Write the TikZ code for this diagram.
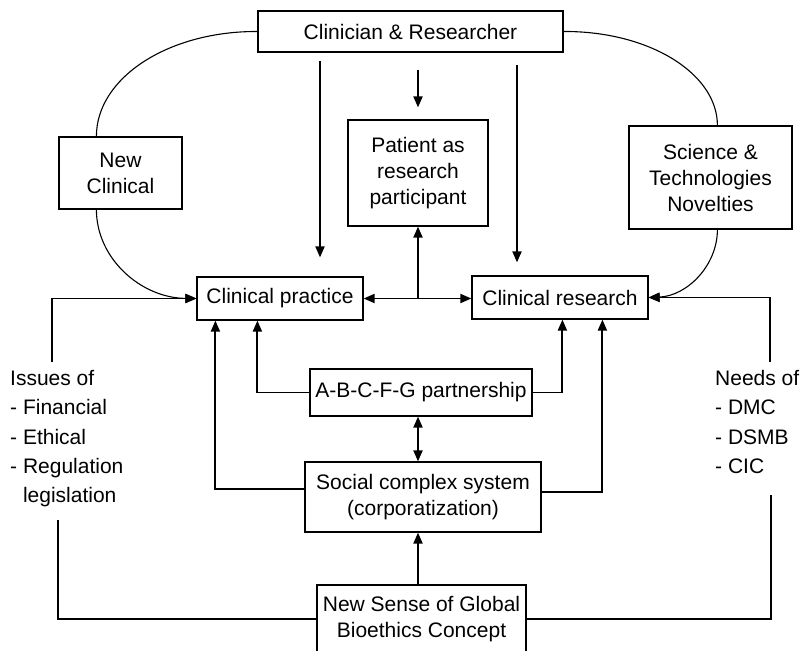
\documentclass[tikz,border=0pt]{standalone}
\usepackage{fontspec}
\setmainfont{Liberation Sans}
\usetikzlibrary{arrows.meta}
\begin{document}
\begin{tikzpicture}[x=1pt,y=-1pt,
  box/.style={draw, line width=1.2pt, inner sep=0pt, align=center,
    font=\fontsize{21}{26}\selectfont},
  arr/.style={line width=1.9pt, -{Triangle[length=11pt,width=9pt]}},
  darr/.style={line width=1.9pt, {Triangle[length=11pt,width=9pt]}-{Triangle[length=11pt,width=9pt]}},
  curve/.style={line width=1.1pt},
  list/.style={inner sep=0pt, anchor=north west, align=left,
    font=\fontsize{21}{29.3}\selectfont}]
\useasboundingbox (0,0) rectangle (802,650);

% boxes
\node[box, minimum width=305pt, minimum height=41pt] (clin) at (410.5,31.5) {Clinician \& Researcher};
\node[box, minimum width=123pt, minimum height=72pt] (nc) at (120.5,173) {New\\Clinical};
\node[box, minimum width=140pt, minimum height=106pt] (pat) at (418,173) {Patient as\\research\\participant};
\node[box, minimum width=163pt, minimum height=103pt] (sci) at (710.5,177.5) {Science \&\\Technologies\\Novelties};
\node[box, minimum width=166pt, minimum height=43pt] (prac) at (280,298.5) {Clinical practice};
\node[box, minimum width=176pt, minimum height=43pt] (res) at (560,297.5) {Clinical research};
\node[box, minimum width=222pt, minimum height=47pt] (abc) at (421,392.5) {A-B-C-F-G partnership};
\node[box, minimum width=236pt, minimum height=70pt] (soc) at (423,497) {Social complex system\\(corporatization)};
\node[box, minimum width=209pt, minimum height=68pt] (ns) at (421.5,619) {New Sense of Global\\Bioethics Concept};

% side lists
\node[list] (iss) at (10,370) {Issues of\\- Financial\\- Ethical\\- Regulation\\\hphantom{- }legislation};
\node[list] (need) at (715,370) {Needs of\\- DMC\\- DSMB\\- CIC};

% free ends of the side connectors
\coordinate (issTop) at (52,362);
\coordinate (issBot) at (58,520);
\coordinate (needTop) at (770,362);
\coordinate (needBot) at (771,495);

% curved links through the side boxes
\draw[curve] (clin.west) .. controls (169,31) and ([xshift=38pt,yshift=59pt]nc.north west) .. ([xshift=38pt]nc.north west);
\draw[curve, -{Triangle[length=11pt,width=9pt]}] ([xshift=38pt]nc.south west) .. controls ([xshift=38pt,yshift=-49pt]nc.south west) and (141,298) .. (prac.west);
\draw[curve] (clin.east) .. controls (649,31) and ([xshift=89pt,yshift=52pt]sci.north west) .. ([xshift=89pt]sci.north west);
\draw[curve, -{Triangle[length=11pt,width=9pt]}] ([xshift=89pt]sci.south west) .. controls ([xshift=89pt,yshift=-36pt]sci.south west) and (687,296) .. (res.east);

% arrows from the top box
\draw[arr, shorten <=8pt, shorten >=19pt] ([xshift=-90.5pt]clin.south) -- ([xshift=40pt]prac.north);
\draw[arr, shorten <=17pt, shorten >=12pt] ([xshift=7.5pt]clin.south) -- (pat.north);
\draw[arr, shorten <=12pt, shorten >=13pt] ([xshift=106.5pt]clin.south) -- ([xshift=-43pt]res.north);

% practice <-> research, with branch to the patient box
\draw[darr] (prac.east) -- (prac.east -| res.west);
\draw[arr] (prac.east -| pat.south) -- (pat.south);

% side inputs
\draw[arr] (issTop) |- (prac.west);
\draw[arr] (needTop) |- (res.east);

% partnership and social system feeding both boxes
\draw[arr] (abc.west) -| ([xshift=61pt]prac.south west);
\draw[arr] (abc.east) -| ([xshift=91pt]res.south west);
\draw[arr] ([yshift=8pt]soc.west) -| ([xshift=19pt]prac.south west);
\draw[arr] ([yshift=5pt]soc.east) -| ([xshift=131pt]res.south west);
\draw[darr] (abc.south -| pat.south) -- (soc.north -| pat.south);
\draw[arr] (ns.north -| pat.south) -- (soc.south -| pat.south);

% bottom box to both side lists
\draw[curve] (ns.west) -| (issBot);
\draw[curve] (ns.east) -| (needBot);
\end{tikzpicture}
\end{document}
